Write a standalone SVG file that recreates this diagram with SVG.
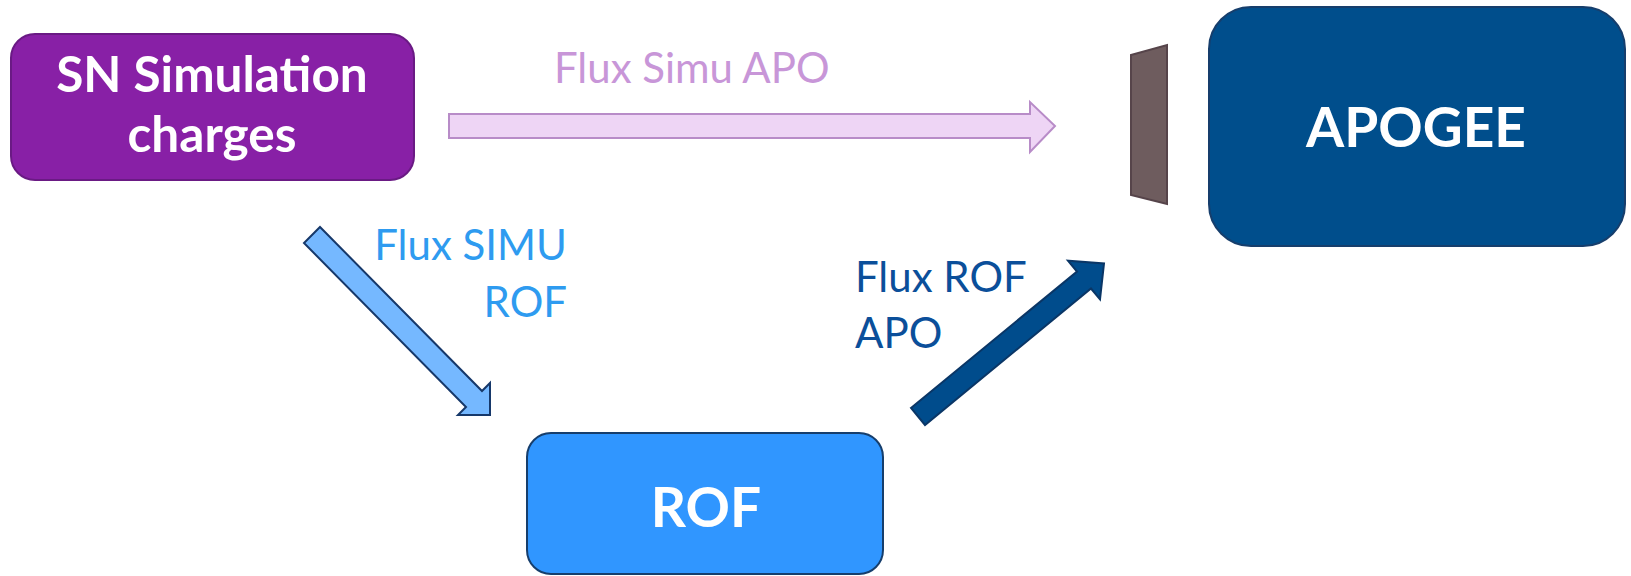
<svg xmlns="http://www.w3.org/2000/svg" width="1631" height="576" viewBox="0 0 1631 576">
<style>
.lbl{font-family:Lato,"Open Sans","Liberation Sans",sans-serif;font-size:42px;}
.bold{font-family:Lato,"Open Sans","Liberation Sans",sans-serif;font-weight:bold;fill:#ffffff;}
</style>
<rect width="1631" height="576" fill="#ffffff"/>
<g id="node-sn">
<rect x="11" y="34" width="403" height="146" rx="24" fill="#8820A6" stroke="#6A1A84" stroke-width="2"/>
<text class="bold" x="212" y="92" font-size="49.5" text-anchor="middle">SN Simulation</text>
<text class="bold" x="212" y="152" font-size="49.5" text-anchor="middle">charges</text>
</g>
<g id="node-apogee">
<rect x="1209" y="7" width="416" height="239" rx="42" fill="#004E8C" stroke="#163E6C" stroke-width="2"/>
<text class="bold" x="1416" y="147" font-size="55" text-anchor="middle">APOGEE</text>
</g>
<g id="node-barrier">
<polygon points="1131,55 1167,45 1167,204 1131,195" fill="#6E5C5E" stroke="#56444A" stroke-width="2"/>
</g>
<g id="node-rof">
<rect x="527" y="433" width="356" height="141" rx="24" fill="#3096FF" stroke="#163E6C" stroke-width="2"/>
<text class="bold" x="706" y="527" font-size="55" text-anchor="middle">ROF</text>
</g>
<g id="connectors">
<polygon points="449,114 1030,114 1030,102 1055,126 1030,152 1030,138 449,138" fill="#EED5F5" stroke="#B88CC8" stroke-width="2"/>
<polygon points="320,227 482,391 490,383 490,415 458,415 466,407 304,243" fill="#75B8FF" stroke="#16386A" stroke-width="2"/>
<polygon points="911,408 1077,271.5 1068,260.7 1104,263.5 1100,299.3 1091,288.5 925,425" fill="#004C8C" stroke="#0A3666" stroke-width="2"/>
</g>
<g id="labels">
<text class="lbl" x="554" y="83" fill="#C896D8">Flux Simu APO</text>
<text class="lbl" x="567" y="260" fill="#2E9BF0" text-anchor="end">Flux SIMU</text>
<text class="lbl" x="567" y="317" fill="#2E9BF0" text-anchor="end">ROF</text>
<text class="lbl" x="855" y="292" fill="#0B4F9A">Flux ROF</text>
<text class="lbl" x="855" y="348" fill="#0B4F9A">APO</text>
</g>
</svg>
